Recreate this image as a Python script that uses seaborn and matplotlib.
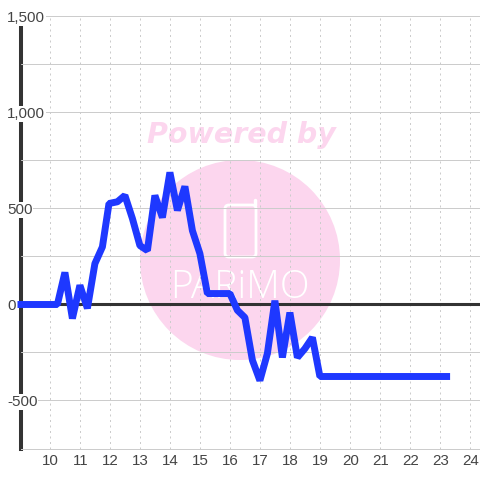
import matplotlib
matplotlib.use("Agg")
import matplotlib.pyplot as plt
from matplotlib.patches import Circle, FancyBboxPatch
from matplotlib.lines import Line2D
import pandas as pd
import seaborn as sns

hours = [8.9, 10.23, 10.48, 10.73, 10.98, 11.23, 11.48, 11.73, 11.95, 12.23, 12.48, 12.73, 12.98,
         13.23, 13.48, 13.73, 13.98, 14.23, 14.48, 14.73, 14.98, 15.23, 15.98, 16.23, 16.48,
         16.73, 16.98, 17.23, 17.48, 17.73, 17.98, 18.23, 18.48, 18.73, 18.98, 23.32]
values = [0, 0, 167, -73, 100, -20, 213, 300, 526, 535, 568, 448, 307,
          281, 568, 453, 688, 490, 615, 385, 265, 57, 57, -30, -68,
          -290, -396, -255, 20, -276, -42, -276, -230, -172, -375, -375]
x_ticks = list(range(10, 25))
y_major = [-500, 0, 500, 1000, 1500]
y_major_labels = ["-500", "0", "500", "1,000", "1,500"]
y_minor = [-750, -250, 250, 750, 1250]

sns.set_theme(style="white")
plt.rcParams["font.family"] = ["Liberation Sans", "DejaVu Sans"]

W = H = 480
fig = plt.figure(figsize=(4.8, 4.8), dpi=100, facecolor="white")
ax = fig.add_axes([20.5 / W, 1 - 448.5 / H, (W - 20.5) / W, 432 / H])
ax.patch.set_alpha(0)

# watermark behind the axes
pink = "#fcd6ee"
fig.add_artist(Circle((240 / W, 1 - 260 / H), 100 / W, transform=fig.transFigure,
                      fc=pink, ec="none", zorder=-3))
fig.text(241.5 / W, 1 - 135 / H, "Powered by", color=pink, fontsize=20.5, fontweight="bold",
         fontstyle="italic", family="DejaVu Sans", ha="center", va="center", zorder=-3)
fig.add_artist(FancyBboxPatch((225 / W, 1 - 257 / H), 31 / W, 52 / H,
                              boxstyle="round,pad=0,rounding_size=0.008",
                              transform=fig.transFigure, fc="none", ec="white", lw=2, zorder=-2))
fig.add_artist(Line2D([255 / W, 255 / W], [1 - 205 / H, 1 - 200 / H], transform=fig.transFigure,
                      color="white", lw=2.5, zorder=-2))
fig.text(240 / W, 1 - 288 / H, "PARiMO", color="white", fontsize=28,
         family="Open Sans", fontweight="light", ha="center", va="center", zorder=-2)

df = pd.DataFrame({"hour": hours, "value": values})
sns.lineplot(data=df, x="hour", y="value", ax=ax, color="#1e38ff", linewidth=5.0,
             solid_joinstyle="bevel", solid_capstyle="butt", clip_on=False, zorder=4)
ax.axhline(0, color="#333333", lw=2.2, zorder=2.6)

ax.set_xlim(9, 24.317)
ax.set_ylim(-750, 1500)
ax.set_xlabel("")
ax.set_ylabel("")
ax.set_xticks(x_ticks)
ax.set_xticklabels([str(v) for v in x_ticks])
ax.set_yticks(y_major)
ax.set_yticklabels(y_major_labels)
ax.set_yticks(y_minor, minor=True)
ax.set_axisbelow(False)
ax.grid(True, axis="y", which="both", color="#cccccc", lw=0.72)
ax.grid(True, axis="x", which="major", color="#cccccc", lw=0.72, linestyle=(0, (2.0, 3.5)))
ax.tick_params(axis="both", which="both", length=0)
ax.tick_params(axis="x", labelsize=10.9, labelcolor="#444444", pad=4.2)
ax.tick_params(axis="y", labelsize=10.9, labelcolor="#444444", pad=9.7)
for lab in ax.get_yticklabels():
    lab.set_ha("left")
    lab.set_bbox(dict(facecolor="white", edgecolor="none", pad=0.5))

for side in ("top", "right"):
    ax.spines[side].set_visible(False)
ax.spines["bottom"].set_color("#cccccc")
ax.spines["bottom"].set_linewidth(0.72)
ax.spines["left"].set_color("#333333")
ax.spines["left"].set_linewidth(2.9)

fig.savefig("out.png", dpi=100)
